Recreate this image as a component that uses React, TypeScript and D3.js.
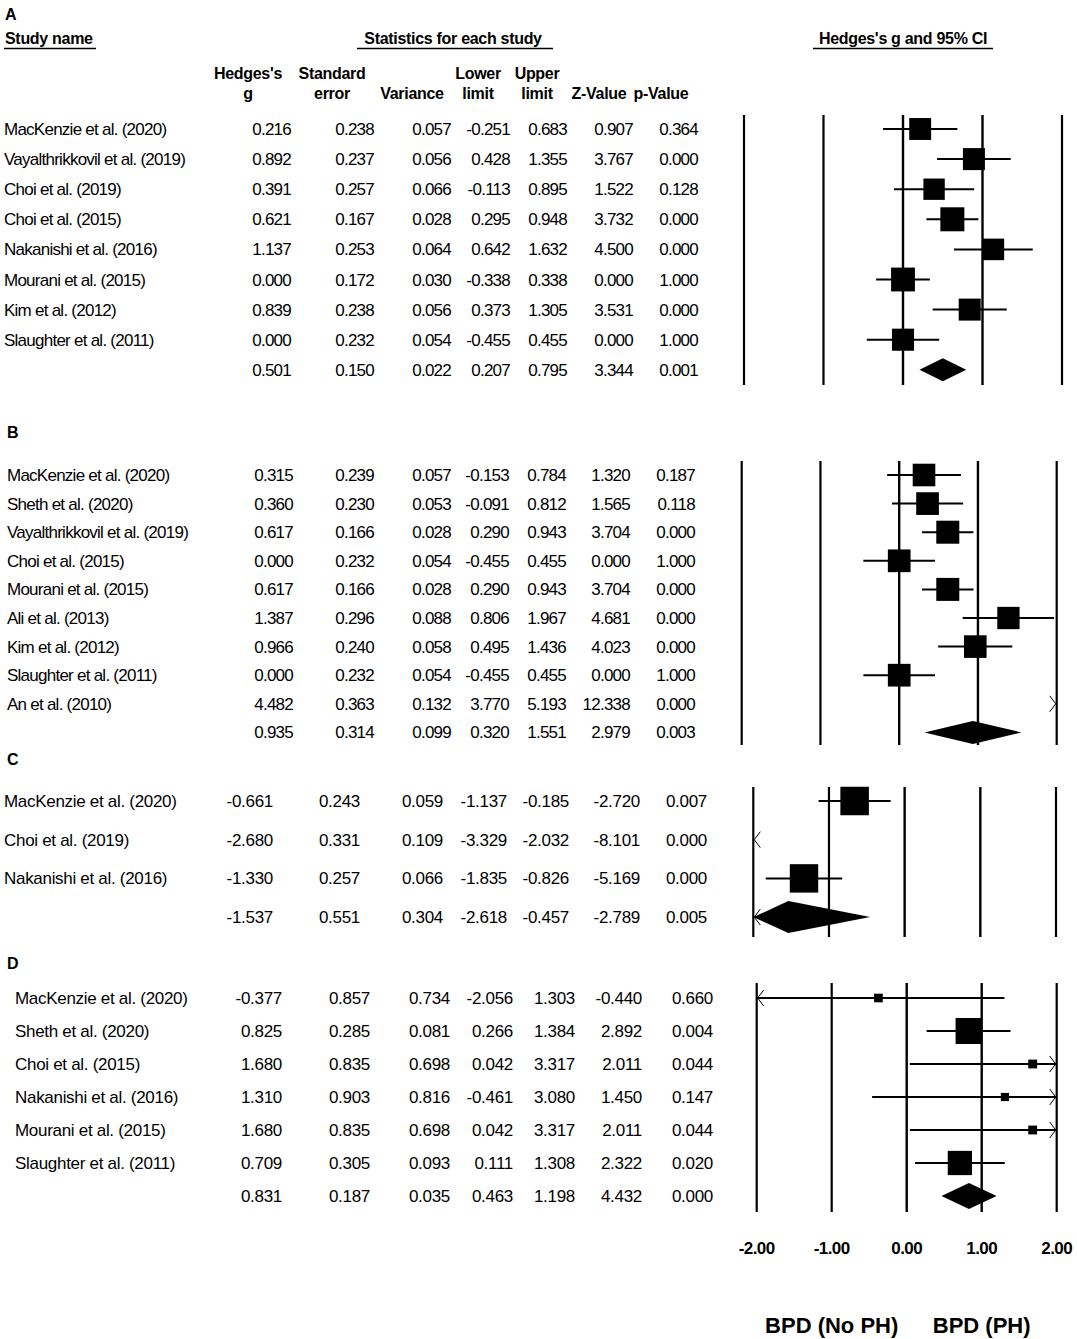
import React from "react";
import * as d3 from "d3";

const FONT = "'Liberation Sans', Arial, Helvetica, sans-serif";

// ---------- Panel A ----------
const aStudies = ["MacKenzie et al. (2020)", "Vayalthrikkovil et al. (2019)", "Choi et al. (2019)", "Choi et al. (2015)", "Nakanishi et al. (2016)", "Mourani et al. (2015)", "Kim et al. (2012)", "Slaughter et al. (2011)"];
const aG = [0.216, 0.892, 0.391, 0.621, 1.137, 0.0, 0.839, 0.0];
const aSE = [0.238, 0.237, 0.257, 0.167, 0.253, 0.172, 0.238, 0.232];
const aVar = [0.057, 0.056, 0.066, 0.028, 0.064, 0.03, 0.056, 0.054];
const aLower = [-0.251, 0.428, -0.113, 0.295, 0.642, -0.338, 0.373, -0.455];
const aUpper = [0.683, 1.355, 0.895, 0.948, 1.632, 0.338, 1.305, 0.455];
const aZ = [0.907, 3.767, 1.522, 3.732, 4.5, 0.0, 3.531, 0.0];
const aP = [0.364, 0.0, 0.128, 0.0, 0.0, 1.0, 0.0, 1.0];
const aWeight = [12.0, 12.1, 11.4, 14.4, 11.6, 14.2, 12.1, 12.2];
const aSummary = [0.501, 0.15, 0.022, 0.207, 0.795, 3.344, 0.001];

// ---------- Panel B ----------
const bStudies = ["MacKenzie et al. (2020)", "Sheth et al. (2020)", "Vayalthrikkovil et al. (2019)", "Choi et al. (2015)", "Mourani et al. (2015)", "Ali et al. (2013)", "Kim et al. (2012)", "Slaughter et al. (2011)", "An et al. (2010)"];
const bG = [0.315, 0.36, 0.617, 0.0, 0.617, 1.387, 0.966, 0.0, 4.482];
const bSE = [0.239, 0.23, 0.166, 0.232, 0.166, 0.296, 0.24, 0.232, 0.363];
const bVar = [0.057, 0.053, 0.028, 0.054, 0.028, 0.088, 0.058, 0.054, 0.132];
const bLower = [-0.153, -0.091, 0.29, -0.455, 0.29, 0.806, 0.495, -0.455, 3.77];
const bUpper = [0.784, 0.812, 0.943, 0.455, 0.943, 1.967, 1.436, 0.455, 5.193];
const bZ = [1.32, 1.565, 3.704, 0.0, 3.704, 4.681, 4.023, 0.0, 12.338];
const bP = [0.187, 0.118, 0.0, 1.0, 0.0, 0.0, 0.0, 1.0, 0.0];
const bWeight = [11.1, 11.2, 11.5, 11.2, 11.5, 10.8, 11.1, 11.2, 10.3];
const bSummary = [0.935, 0.314, 0.099, 0.32, 1.551, 2.979, 0.003];

// ---------- Panel C ----------
const cStudies = ["MacKenzie et al. (2020)", "Choi et al. (2019)", "Nakanishi et al. (2016)"];
const cG = [-0.661, -2.68, -1.33];
const cSE = [0.243, 0.331, 0.257];
const cVar = [0.059, 0.109, 0.066];
const cLower = [-1.137, -3.329, -1.835];
const cUpper = [-0.185, -2.032, -0.826];
const cZ = [-2.72, -8.101, -5.169];
const cP = [0.007, 0.0, 0.0];
const cWeight = [34.0, 32.2, 33.8];
const cSummary = [-1.537, 0.551, 0.304, -2.618, -0.457, -2.789, 0.005];

// ---------- Panel D ----------
const dStudies = ["MacKenzie et al. (2020)", "Sheth et al. (2020)", "Choi et al. (2015)", "Nakanishi et al. (2016)", "Mourani et al. (2015)", "Slaughter et al. (2011)"];
const dG = [-0.377, 0.825, 1.68, 1.31, 1.68, 0.709];
const dSE = [0.857, 0.285, 0.835, 0.903, 0.835, 0.305];
const dVar = [0.734, 0.081, 0.698, 0.816, 0.698, 0.093];
const dLower = [-2.056, 0.266, 0.042, -0.461, 0.042, 0.111];
const dUpper = [1.303, 1.384, 3.317, 3.08, 3.317, 1.308];
const dZ = [-0.44, 2.892, 2.011, 1.45, 2.011, 2.322];
const dP = [0.66, 0.004, 0.044, 0.147, 0.044, 0.02];
const dWeight = [4.8, 43.3, 5.0, 4.3, 5.0, 37.7];
const dSummary = [0.831, 0.187, 0.035, 0.463, 1.198, 4.432, 0.0];

const axisTicks = [-2, -1, 0, 1, 2];
const axisDomain = [-2, 2];
const headerLine1 = ["Hedges's", "Standard", "", "Lower", "Upper", "", ""];
const headerLine2 = ["g", "error", "Variance", "limit", "limit", "Z-Value", "p-Value"];
const sideLabels = ["BPD (No PH)", "BPD (PH)"];
const sideLabelValues = [-1, 1];

type PanelData = {
  label: string;
  studies: string[];
  g: number[];
  se: number[];
  v: number[];
  lo: number[];
  hi: number[];
  z: number[];
  p: number[];
  w: number[];
  summary: number[];
};

type PanelLayout = {
  labelX: number;
  labelY: number;
  nameX: number;
  firstY: number;
  step: number;
  colRight: number[];
  range: [number, number];
  lineTop: number;
  lineBottom: number;
  maxSide: number;
  diamondHalf: number;
  letterSpacing: number;
  ciWidth: number;
};

const panels: { data: PanelData; layout: PanelLayout }[] = [
  {
    data: { label: "A", studies: aStudies, g: aG, se: aSE, v: aVar, lo: aLower, hi: aUpper, z: aZ, p: aP, w: aWeight, summary: aSummary },
    layout: { labelX: 5, labelY: 14, nameX: 4, firstY: 129, step: 30.1, colRight: [291, 374, 451, 510, 567, 633, 698], range: [744, 1062], lineTop: 115, lineBottom: 385, maxSide: 24, diamondHalf: 11.5, letterSpacing: -0.75, ciWidth: 2 },
  },
  {
    data: { label: "B", studies: bStudies, g: bG, se: bSE, v: bVar, lo: bLower, hi: bUpper, z: bZ, p: bP, w: bWeight, summary: bSummary },
    layout: { labelX: 7, labelY: 432, nameX: 7, firstY: 475, step: 28.6, colRight: [293, 374, 451, 509, 566, 630, 695], range: [741.7, 1056.7], lineTop: 461, lineBottom: 745, maxSide: 23, diamondHalf: 11.5, letterSpacing: -0.75, ciWidth: 2 },
  },
  {
    data: { label: "C", studies: cStudies, g: cG, se: cSE, v: cVar, lo: cLower, hi: cUpper, z: cZ, p: cP, w: cWeight, summary: cSummary },
    layout: { labelX: 7, labelY: 759, nameX: 4, firstY: 801, step: 38.7, colRight: [273, 360, 443, 507, 569, 640, 707], range: [753.3, 1056], lineTop: 787, lineBottom: 937, maxSide: 28.5, diamondHalf: 16, letterSpacing: -0.3, ciWidth: 2 },
  },
  {
    data: { label: "D", studies: dStudies, g: dG, se: dSE, v: dVar, lo: dLower, hi: dUpper, z: dZ, p: dP, w: dWeight, summary: dSummary },
    layout: { labelX: 7, labelY: 963, nameX: 15, firstY: 998, step: 33, colRight: [282, 370, 450, 513, 575, 642, 713], range: [756.7, 1056.7], lineTop: 983, lineBottom: 1212, maxSide: 26, diamondHalf: 13, letterSpacing: -0.3, ciWidth: 1.8 },
  },
];

const fmt3 = (v: number) => v.toFixed(3);
const fmt2 = (v: number) => v.toFixed(2);

function Chevron({ x, y, dir }: { x: number; y: number; dir: "left" | "right" }) {
  const dx = dir === "left" ? 6 : -6;
  return (
    <path d={`M${x + dx},${y - 8} L${x},${y} L${x + dx},${y + 8}`} fill="none" stroke="#000" strokeWidth={1} />
  );
}

function Panel({ data, layout }: { data: PanelData; layout: PanelLayout }) {
  const x = d3.scaleLinear().domain(axisDomain).range(layout.range);
  const [dMin, dMax] = axisDomain;
  const n = data.studies.length;
  const y = d3.scaleLinear().domain([0, 1]).range([layout.firstY, layout.firstY + layout.step]);
  const maxW = d3.max(data.w) as number;
  const side = d3.scaleSqrt().domain([0, maxW]).range([0, layout.maxSide]);
  const textStyle = { fontFamily: FONT, fontSize: 17, letterSpacing: layout.letterSpacing } as React.CSSProperties;

  const rows = data.studies.map((name, i) => [data.g[i], data.se[i], data.v[i], data.lo[i], data.hi[i], data.z[i], data.p[i]]);

  const s = data.summary;
  const sy = y(n);
  const sLo = Math.max(dMin, s[3]);
  const sHi = Math.min(dMax, s[4]);
  const sG = Math.min(dMax, Math.max(dMin, s[0]));

  return (
    <g>
      <text x={layout.labelX} y={layout.labelY + 6} style={{ fontFamily: FONT, fontSize: 16, fontWeight: "bold" }}>{data.label}</text>
      {data.studies.map((name, i) => (
        <text key={"n" + i} x={layout.nameX} y={y(i) + 6} style={textStyle}>{name}</text>
      ))}
      {rows.map((vals, i) =>
        vals.map((v, j) => (
          <text key={`c${i}-${j}`} x={layout.colRight[j]} y={y(i) + 6} textAnchor="end" style={textStyle}>{fmt3(v)}</text>
        ))
      )}
      {s.map((v, j) => (
        <text key={`s${j}`} x={layout.colRight[j]} y={sy + 6} textAnchor="end" style={textStyle}>{fmt3(v)}</text>
      ))}
      {axisTicks.map((t) => (
        <line key={"v" + t} x1={x(t)} x2={x(t)} y1={layout.lineTop} y2={layout.lineBottom} stroke="#000" strokeWidth={t === 0 || t === 1 ? 2.4 : 2.2} />
      ))}
      {data.studies.map((name, i) => {
        const yc = y(i);
        const lo = data.lo[i];
        const hi = data.hi[i];
        const g = data.g[i];
        const els: React.ReactNode[] = [];
        if (hi < dMin) {
          els.push(<Chevron key="l" x={x(dMin) + 1} y={yc} dir="left" />);
        } else if (lo > dMax) {
          els.push(<Chevron key="r" x={x(dMax) - 1} y={yc} dir="right" />);
        } else {
          const l = Math.max(dMin, lo);
          const h = Math.min(dMax, hi);
          els.push(<line key="ci" x1={x(l)} x2={x(h)} y1={yc} y2={yc} stroke="#000" strokeWidth={layout.ciWidth} />);
          if (lo < dMin) els.push(<Chevron key="cl" x={x(dMin) + 1} y={yc} dir="left" />);
          if (hi > dMax) els.push(<Chevron key="cr" x={x(dMax) - 1} y={yc} dir="right" />);
          if (g >= dMin && g <= dMax) {
            const sd = side(data.w[i]);
            els.push(<rect key="sq" x={x(g) - sd / 2} y={yc - sd / 2} width={sd} height={sd} fill="#000" />);
          }
        }
        return <g key={"f" + i}>{els}</g>;
      })}
      <polygon
        points={[
          [x(sLo), sy],
          [x(sG), sy - layout.diamondHalf],
          [x(sHi), sy],
          [x(sG), sy + layout.diamondHalf],
        ].map((pt) => pt.join(",")).join(" ")}
        fill="#000"
      />
      {s[3] < dMin && <Chevron x={x(dMin) + 1} y={sy} dir="left" />}
      {s[4] > dMax && <Chevron x={x(dMax) - 1} y={sy} dir="right" />}
    </g>
  );
}

export default function App() {
  const W = 1077;
  const H = 1339;
  const headerCenters = [248, 332, 412, 478, 537, 599, 661];
  const xAxis = d3.scaleLinear().domain(axisDomain).range(panels[3].layout.range);
  const boldHdr = { fontFamily: FONT, fontSize: 16, fontWeight: "bold", letterSpacing: -0.3 } as React.CSSProperties;
  return (
    <svg width={W} height={H} viewBox={`0 0 ${W} ${H}`} style={{ position: "absolute", left: 0, top: 0, background: "#fff" }}>
      <rect x={0} y={0} width={W} height={H} fill="#fff" />
      {/* header titles */}
      <text x={5} y={44} style={boldHdr}>Study name</text>
      <line x1={4} x2={96} y1={48.5} y2={48.5} stroke="#000" strokeWidth={1.5} />
      <text x={453} y={44} textAnchor="middle" style={boldHdr}>Statistics for each study</text>
      <line x1={357} x2={553} y1={48.5} y2={48.5} stroke="#000" strokeWidth={1.5} />
      <text x={903} y={44} textAnchor="middle" style={boldHdr}>Hedges's g and 95% CI</text>
      <line x1={813} x2={993} y1={48.5} y2={48.5} stroke="#000" strokeWidth={1.5} />
      {headerLine1.map((t, i) => (
        <text key={"h1" + i} x={headerCenters[i]} y={79} textAnchor="middle" style={boldHdr}>{t}</text>
      ))}
      {headerLine2.map((t, i) => (
        <text key={"h2" + i} x={headerCenters[i]} y={99} textAnchor="middle" style={boldHdr}>{t}</text>
      ))}
      {panels.map((p, i) => (
        <Panel key={i} data={p.data} layout={p.layout} />
      ))}
      {axisTicks.map((t) => (
        <text key={"t" + t} x={xAxis(t)} y={1254} textAnchor="middle" style={{ fontFamily: FONT, fontSize: 17, fontWeight: "bold", letterSpacing: -0.6 }}>{fmt2(t)}</text>
      ))}
      {sideLabels.map((s, i) => (
        <text key={"sl" + i} x={xAxis(sideLabelValues[i])} y={1333} textAnchor="middle" style={{ fontFamily: FONT, fontSize: 22, fontWeight: "bold" }}>{s}</text>
      ))}
    </svg>
  );
}
